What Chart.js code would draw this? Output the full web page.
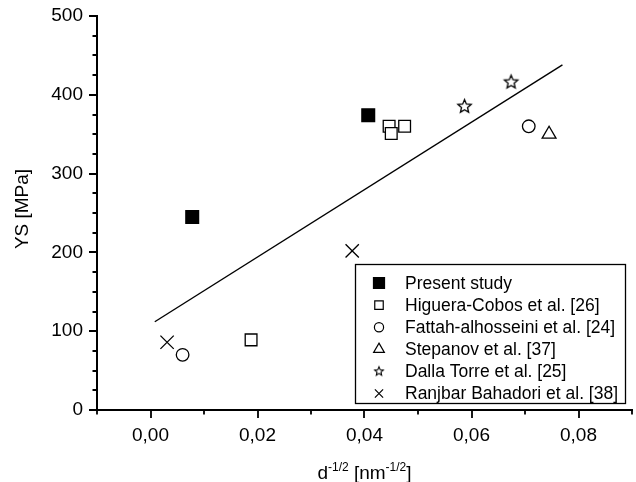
<!DOCTYPE html>
<html>
<head>
<meta charset="utf-8">
<script src="https://cdn.jsdelivr.net/npm/chart.js@4.4.0/dist/chart.umd.min.js"></script>
<style>
    html, body { margin: 0; padding: 0; background: #fff; }
    #wrap { width: 636px; height: 482px; }
</style>
</head>
<body>
<div id="wrap"><canvas id="ysChart"></canvas></div>
<script>
// Yield strength vs d^-1/2, own results against literature values
const presentX = [0.0078, 0.0407];
const presentY = [245, 374];
const higueraX = [0.0188, 0.0446, 0.0450, 0.0475];
const higueraY = [89, 360, 351, 360];
const fattahX = [0.0060, 0.0707];
const fattahY = [70, 360];
const stepanovX = [0.0745];
const stepanovY = [350];
const dallaX = [0.0587, 0.0674];
const dallaY = [385, 416];
const ranjbarX = [0.0031, 0.0377];
const ranjbarY = [86, 202];
// Hall-Petch fit line end points
const fitX = [0.0008, 0.0770];
const fitY = [112, 438];

const seriesNames = [
    'Present study',
    'Higuera-Cobos et al. [26]',
    'Fattah-alhosseini et al. [24]',
    'Stepanov et al. [37]',
    'Dalla Torre et al. [25]',
    'Ranjbar Bahadori et al. [38]'
];

const FONT = '"Liberation Sans", Arial, sans-serif';

const makeStar = (r, lw) => {
    const c = document.createElement('canvas');
    const s = Math.ceil(r * 2 + lw * 2 + 2);
    c.width = c.height = s;
    const g = c.getContext('2d');
    g.beginPath();
    for (let i = 0; i < 10; i++) {
        const rad = i % 2 ? r * 0.45 : r;
        const a = -Math.PI / 2 + i * Math.PI / 5;
        g.lineTo(s / 2 + rad * Math.cos(a), s / 2 + rad * Math.sin(a));
    }
    g.closePath();
    g.fillStyle = '#fff';
    g.fill();
    g.lineWidth = lw;
    g.strokeStyle = '#000';
    g.stroke();
    return c;
};

const starPlot = makeStar(7, 1.3);
const starLegend = makeStar(4.6, 1.1);

const toPoints = (xs, ys) => xs.map((x, i) => ({ x, y: ys[i] }));

const markers = [
    { style: 'rect', r: 9, fill: '#000', lr: 7.8 },
    { style: 'rect', r: 8.3, fill: '#fff', lr: 6 },
    { style: 'circle', r: 6.3, fill: '#fff', lr: 4.6 },
    { style: 'triangle', r: 8, fill: '#fff', lr: 6.2 },
    { style: starPlot, r: 7, fill: '#fff', lr: 4.6, legendStyle: starLegend },
    { style: 'crossRot', r: 9.4, fill: '#fff', lr: 5.8 }
];

const seriesData = [
    toPoints(presentX, presentY),
    toPoints(higueraX, higueraY),
    toPoints(fattahX, fattahY),
    toPoints(stepanovX, stepanovY),
    toPoints(dallaX, dallaY),
    toPoints(ranjbarX, ranjbarY)
];

const datasets = seriesNames.map((name, i) => ({
    label: name,
    data: seriesData[i],
    pointStyle: markers[i].style,
    pointRadius: markers[i].r,
    pointHoverRadius: markers[i].r,
    pointBackgroundColor: markers[i].fill,
    pointBorderColor: '#000',
    pointBorderWidth: 1.3,
    showLine: false
}));

datasets.push({
    label: 'fit',
    data: toPoints(fitX, fitY),
    showLine: true,
    borderColor: '#000',
    borderWidth: 1.4,
    pointRadius: 0,
    fill: false
});

const isMajorY = v => Math.round(v) % 100 === 0;
const isMajorX = v => Math.round(v * 100) % 2 === 0;
const fmtX = v => (Math.round(v * 100) / 100 + 0).toFixed(2).replace('-0.00', '0.00').replace('.', ',');

// tick marks, axis titles and the boxed legend
const decorations = {
    id: 'decorations',
    afterDraw(chart) {
        const { ctx, chartArea: a, scales: { x, y } } = chart;
        ctx.save();

        ctx.strokeStyle = '#000';
        ctx.lineWidth = 1.8;
        ctx.beginPath();
        y.ticks.forEach(t => {
            const py = Math.round(y.getPixelForValue(t.value));
            const len = isMajorY(t.value) ? 8 : 4.5;
            ctx.moveTo(a.left - len, py);
            ctx.lineTo(a.left, py);
        });
        x.ticks.forEach(t => {
            const px = Math.round(x.getPixelForValue(t.value));
            const len = isMajorX(t.value) ? 8 : 4.5;
            ctx.moveTo(px, a.bottom);
            ctx.lineTo(px, a.bottom + len);
        });
        ctx.stroke();

        // y title
        ctx.fillStyle = '#000';
        ctx.font = '19px ' + FONT;
        ctx.textAlign = 'center';
        ctx.textBaseline = 'middle';
        ctx.save();
        ctx.translate(23, (a.top + a.bottom) / 2 - 4);
        ctx.rotate(-Math.PI / 2);
        ctx.fillText('YS [MPa]', 0, 0);
        ctx.restore();

        // x title with superscripts
        const parts = [
            { t: 'd', sup: false },
            { t: '-1/2', sup: true },
            { t: ' [nm', sup: false },
            { t: '-1/2', sup: true },
            { t: ']', sup: false }
        ];
        const big = '19px ' + FONT, small = '12px ' + FONT;
        let total = 0;
        parts.forEach(p => { ctx.font = p.sup ? small : big; p.w = ctx.measureText(p.t).width; total += p.w; });
        let cx = (a.left + a.right) / 2 - total / 2;
        const base = 479;
        ctx.textAlign = 'left';
        ctx.textBaseline = 'alphabetic';
        parts.forEach(p => {
            ctx.font = p.sup ? small : big;
            ctx.fillText(p.t, cx, p.sup ? base - 8 : base);
            cx += p.w;
        });

        // legend box
        const bw = 270, bh = 139;
        const bx = a.right - 7 - bw, by = a.bottom - 7 - bh;
        ctx.fillStyle = '#fff';
        ctx.fillRect(bx, by, bw, bh);
        ctx.lineWidth = 1.3;
        ctx.strokeStyle = '#000';
        ctx.strokeRect(bx + 0.5, by + 0.5, bw, bh);

        ctx.font = '17.5px ' + FONT;
        ctx.textBaseline = 'middle';
        seriesNames.forEach((name, i) => {
            const cy = by + 19 + i * 22.1;
            const m = markers[i];
            ctx.fillStyle = m.fill;
            ctx.strokeStyle = '#000';
            ctx.lineWidth = 1.2;
            Chart.helpers.drawPoint(ctx, {
                pointStyle: m.legendStyle || m.style,
                radius: m.lr,
                rotation: 0,
                borderWidth: 1.2
            }, bx + 24, cy);
            ctx.fillStyle = '#000';
            ctx.fillText(name, bx + 50, cy + 1);
        });

        ctx.restore();
    }
};

new Chart(document.getElementById('ysChart'), {
    type: 'scatter',
    data: { datasets },
    options: {
        responsive: true,
        maintainAspectRatio: false,
        animation: false,
        layout: { autoPadding: false, padding: { top: 16, right: 4, left: 0, bottom: 0 } },
        plugins: {
            legend: { display: false },
            tooltip: { enabled: false }
        },
        scales: {
            x: {
                type: 'linear',
                min: -0.01,
                max: 0.09,
                afterFit: s => {
                    s.height = 72;
                    s.paddingLeft = 0;
                    s.paddingRight = 0;
                },
                grid: { display: false, drawTicks: false },
                border: { display: true, color: '#000', width: 2 },
                ticks: {
                    stepSize: 0.01,
                    padding: 14,
                    color: '#000',
                    font: { family: FONT, size: 19 },
                    maxRotation: 0,
                    autoSkip: false,
                    callback: v => isMajorX(v) ? fmtX(v) : ''
                }
            },
            y: {
                type: 'linear',
                min: 0,
                max: 500,
                afterFit: s => {
                    s.width = 97;
                    s.paddingTop = 0;
                    s.paddingBottom = 0;
                },
                grid: { display: false, drawTicks: false },
                border: { display: true, color: '#000', width: 2 },
                ticks: {
                    stepSize: 25,
                    padding: 14,
                    color: '#000',
                    font: { family: FONT, size: 19 },
                    autoSkip: false,
                    callback: v => isMajorY(v) ? String(v) : ''
                }
            }
        }
    },
    plugins: [decorations]
});
</script>
</body>
</html>
